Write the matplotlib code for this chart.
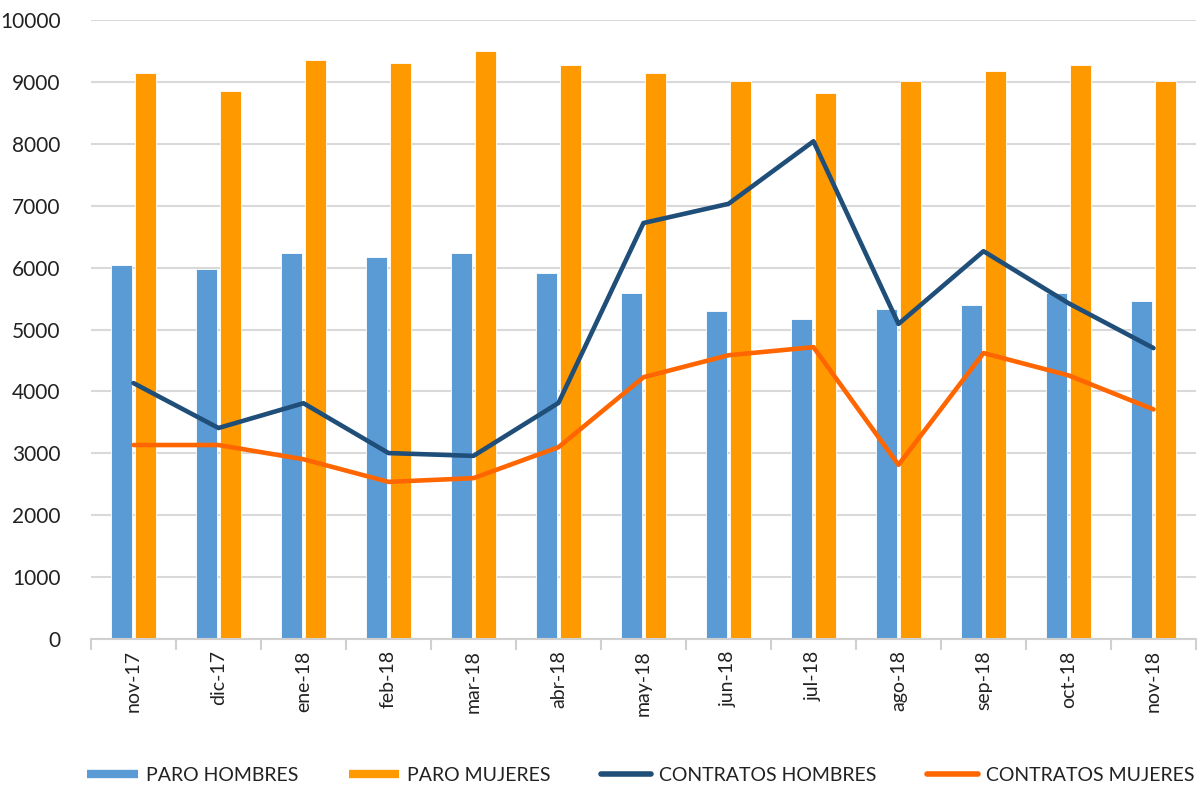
import numpy as np
import matplotlib as mpl

mpl.use('agg')

import matplotlib.pyplot as plt
from matplotlib.lines import Line2D

plt.rcParams['font.family'] = ['Lato', 'DejaVu Sans']

meses = ['nov-17', 'dic-17', 'ene-18', 'feb-18', 'mar-18', 'abr-18', 'may-18',
         'jun-18', 'jul-18', 'ago-18', 'sep-18', 'oct-18', 'nov-18']

paro_hombres = [6045, 5980, 6240, 6175, 6240, 5915, 5595, 5300, 5175, 5335, 5400, 5595, 5465]
paro_mujeres = [9145, 8850, 9360, 9305, 9500, 9270, 9145, 9015, 8820, 9015, 9175, 9270, 9015]
contratos_hombres = [4135, 3410, 3810, 3005, 2960, 3815, 6720, 7030, 8040, 5090, 6265, 5425, 4700]
contratos_mujeres = [3135, 3135, 2905, 2540, 2600, 3100, 4230, 4585, 4715, 2815, 4620, 4260, 3710]

c_ph = '#5B9BD5'
c_pm = '#FF9900'
c_ch = '#1F4E79'
c_cm = '#FF6600'

x = np.arange(len(meses))

fig = plt.figure(figsize=(12.02, 7.95), dpi=100)
ax = fig.add_axes([0.0757, 0.196, 0.9193, 0.779])

ax.bar(x - 0.14, paro_hombres, width=0.25, color=c_ph, edgecolor='white', linewidth=0.6, zorder=2)
ax.bar(x + 0.14, paro_mujeres, width=0.25, color=c_pm, edgecolor='white', linewidth=0.6, zorder=2)
ax.plot(x, contratos_hombres, color=c_ch, lw=3.3, zorder=3, solid_joinstyle='round', solid_capstyle='round')
ax.plot(x, contratos_mujeres, color=c_cm, lw=3.3, zorder=3, solid_joinstyle='round', solid_capstyle='round')

ax.set_xlim(-0.5, len(meses) - 0.5)
ax.set_ylim(0, 10000)
ax.set_yticks(np.arange(0, 10001, 1000))
ax.yaxis.grid(True, color='#d9d9d9', lw=1.5, zorder=0)
ax.set_axisbelow(True)

for s in ['top', 'right', 'left']:
    ax.spines[s].set_visible(False)
ax.spines['bottom'].set_color('#d0d0d0')
ax.spines['bottom'].set_linewidth(1.5)

ax.set_xticks(x)
ax.set_xticklabels(meses, rotation=90, fontsize=14, color='#222222')
ax.tick_params(axis='x', length=0, pad=8)
ax.set_xticks(np.arange(-0.5, len(meses), 1), minor=True)
ax.tick_params(axis='x', which='minor', length=8, width=1.5, color='#d0d0d0')
ax.tick_params(axis='y', length=0, labelsize=15, labelcolor='#222222', pad=22)

handles = [
    Line2D([0], [0], color=c_ph, lw=6, solid_capstyle='butt'),
    Line2D([0], [0], color=c_pm, lw=6, solid_capstyle='butt'),
    Line2D([0], [0], color=c_ch, lw=4, solid_capstyle='round'),
    Line2D([0], [0], color=c_cm, lw=4, solid_capstyle='round'),
]
labels = ['PARO HOMBRES', 'PARO MUJERES', 'CONTRATOS HOMBRES', 'CONTRATOS MUJERES']
fig.legend(handles, labels, loc='center', bbox_to_anchor=(0.533, 0.025), ncol=4,
           frameon=False, fontsize=14, handlelength=2.6, handletextpad=0.4,
           columnspacing=2.6, labelcolor='#222222')

fig.savefig('out.png', dpi=100)
